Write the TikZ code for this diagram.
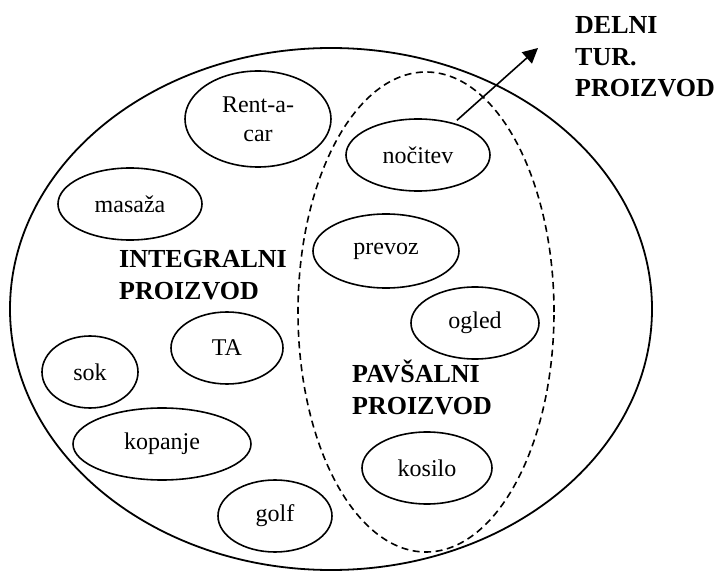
\documentclass[tikz,border=0pt]{standalone}
\usepackage{fontspec}
\setmainfont{Liberation Serif}
\usetikzlibrary{shapes.geometric,arrows.meta}
\begin{document}
\begin{tikzpicture}[x=1pt,y=-1pt,
  oval/.style={draw,ellipse,line width=1.6pt,inner sep=0pt,font=\fontsize{24}{29}\selectfont,align=center},
  big/.style={draw,ellipse,line width=1.8pt,inner sep=0pt},
  title/.style={font=\fontsize{26}{31.5}\selectfont\bfseries,align=left,anchor=base west,inner sep=0pt}]
\useasboundingbox (0,0) rectangle (718,572);
% outer and dashed ellipses
\node[big,minimum width=642pt,minimum height=522pt] (outer) at (331,309) {};
\node[big,dash pattern=on 7pt off 4.5pt,line width=1.6pt,minimum width=256pt,minimum height=480pt] (pavs) at (426,312) {};
% small ellipses
\node[oval,minimum width=146pt,minimum height=96pt] (rent) at (258,119) {Rent-a-\\car};
\node[oval,minimum width=144pt,minimum height=72pt] (masaza) at (130,204) {masaža};
\node[oval,minimum width=144pt,minimum height=72pt] (nocitev) at (418,155) {nočitev};
\node[oval,minimum width=146pt,minimum height=74pt] (prevoz) at (386,251) {prevoz};
\node[oval,minimum width=128pt,minimum height=72pt] (ogled) at (475,323) {ogled};
\node[oval,minimum width=112pt,minimum height=72pt] (ta) at (227,348) {TA};
\node[oval,minimum width=96pt,minimum height=72pt] (sok) at (90,372) {sok};
\node[oval,minimum width=178pt,minimum height=72pt] (kopanje) at (162,444) {kopanje};
\node[oval,minimum width=130pt,minimum height=72pt] (kosilo) at (427,468) {kosilo};
\node[oval,minimum width=114pt,minimum height=72pt] (golf) at (275,516) {golf};
% labels (base anchor = baseline of the last line)
\node[title] (integral) at (119,299) {INTEGRALNI\\PROIZVOD};
\node[title] (pavsal) at (352,414) {PAVŠALNI\\PROIZVOD};
\node[title] (delni) at (575,97) {DELNI\\TUR.\\PROIZVOD};
% arrow
\coordinate (tip) at (538,48);
\draw[line width=1.6pt,-{Triangle[length=15pt,width=15pt]},shorten <=4pt] (nocitev) -- (tip);
\end{tikzpicture}
\end{document}
